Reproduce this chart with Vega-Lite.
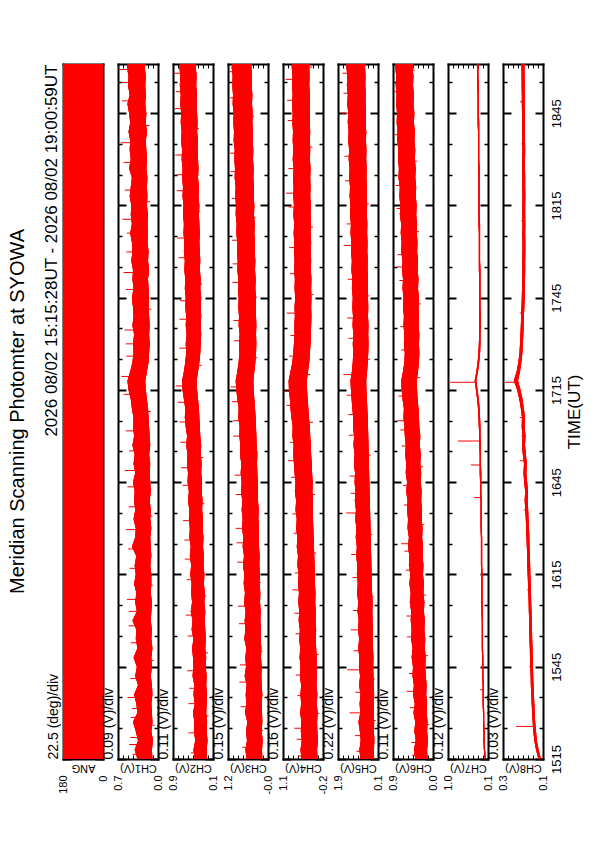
{
"$schema":"https://vega.github.io/schema/vega-lite/v6.json",
"background":"white",
"autosize":{"type":"pad"},
"padding":{"left":8,"top":63,"right":5,"bottom":5},
"title":{"text":"Meridian Scanning Photomter at SYOWA","orient":"left","anchor":"middle","frame":"group","fontSize":20,"offset":14},
"datasets":{
"ang":[{"t":15,"lo":0,"hi":180},{"t":241,"lo":0,"hi":180}],
"main":[
{"t":15,"a1":0.10,"b1":0.37,"a2":0.19,"b2":0.46,"a3":0.15,"b3":0.62,"a4":-0.03,"b4":0.49,"a5":0.27,"b5":0.87,"a6":0.12,"b6":0.39,"a7":0.11,"b7":0.14,"a8":0.072,"b8":0.088},
{"t":18,"a1":0.11,"b1":0.42,"a2":0.20,"b2":0.49,"a3":0.16,"b3":0.66,"a4":-0.01,"b4":0.52,"a5":0.28,"b5":0.92,"a6":0.13,"b6":0.42,"a7":0.13,"b7":0.16,"a8":0.086,"b8":0.102},
{"t":21,"a1":0.09,"b1":0.36,"a2":0.18,"b2":0.45,"a3":0.14,"b3":0.61,"a4":-0.04,"b4":0.48,"a5":0.26,"b5":0.86,"a6":0.11,"b6":0.38,"a7":0.14,"b7":0.17,"a8":0.097,"b8":0.112},
{"t":24,"a1":0.12,"b1":0.40,"a2":0.20,"b2":0.48,"a3":0.17,"b3":0.64,"a4":-0.02,"b4":0.51,"a5":0.28,"b5":0.90,"a6":0.13,"b6":0.41,"a7":0.14,"b7":0.17,"a8":0.102,"b8":0.118},
{"t":27,"a1":0.10,"b1":0.45,"a2":0.19,"b2":0.47,"a3":0.15,"b3":0.60,"a4":-0.01,"b4":0.49,"a5":0.27,"b5":0.96,"a6":0.12,"b6":0.39,"a7":0.15,"b7":0.18,"a8":0.107,"b8":0.122},
{"t":30,"a1":0.11,"b1":0.37,"a2":0.21,"b2":0.50,"a3":0.16,"b3":0.67,"a4":-0.03,"b4":0.53,"a5":0.29,"b5":0.88,"a6":0.14,"b6":0.43,"a7":0.15,"b7":0.18,"a8":0.110,"b8":0.125},
{"t":33,"a1":0.12,"b1":0.39,"a2":0.20,"b2":0.46,"a3":0.17,"b3":0.63,"a4":0.00,"b4":0.50,"a5":0.28,"b5":0.91,"a6":0.13,"b6":0.40,"a7":0.16,"b7":0.19,"a8":0.112,"b8":0.128},
{"t":36,"a1":0.10,"b1":0.43,"a2":0.19,"b2":0.49,"a3":0.15,"b3":0.65,"a4":-0.02,"b4":0.52,"a5":0.27,"b5":0.87,"a6":0.15,"b6":0.44,"a7":0.16,"b7":0.19,"a8":0.115,"b8":0.130},
{"t":39,"a1":0.11,"b1":0.36,"a2":0.21,"b2":0.47,"a3":0.17,"b3":0.62,"a4":0.01,"b4":0.50,"a5":0.29,"b5":0.93,"a6":0.14,"b6":0.42,"a7":0.16,"b7":0.19,"a8":0.117,"b8":0.133},
{"t":42,"a1":0.13,"b1":0.41,"a2":0.20,"b2":0.51,"a3":0.18,"b3":0.68,"a4":-0.01,"b4":0.54,"a5":0.30,"b5":0.89,"a6":0.16,"b6":0.45,"a7":0.17,"b7":0.20,"a8":0.119,"b8":0.134},
{"t":45,"a1":0.11,"b1":0.38,"a2":0.22,"b2":0.49,"a3":0.17,"b3":0.64,"a4":0.01,"b4":0.52,"a5":0.31,"b5":0.94,"a6":0.17,"b6":0.44,"a7":0.17,"b7":0.20,"a8":0.120,"b8":0.136},
{"t":48,"a1":0.12,"b1":0.44,"a2":0.21,"b2":0.50,"a3":0.19,"b3":0.66,"a4":0.00,"b4":0.55,"a5":0.30,"b5":0.92,"a6":0.16,"b6":0.47,"a7":0.17,"b7":0.20,"a8":0.122,"b8":0.138},
{"t":51,"a1":0.10,"b1":0.37,"a2":0.23,"b2":0.52,"a3":0.18,"b3":0.63,"a4":0.02,"b4":0.53,"a5":0.32,"b5":0.97,"a6":0.18,"b6":0.45,"a7":0.18,"b7":0.21,"a8":0.123,"b8":0.139},
{"t":54,"a1":0.12,"b1":0.40,"a2":0.22,"b2":0.49,"a3":0.20,"b3":0.69,"a4":0.03,"b4":0.56,"a5":0.33,"b5":0.93,"a6":0.17,"b6":0.48,"a7":0.18,"b7":0.21,"a8":0.125,"b8":0.141},
{"t":57,"a1":0.11,"b1":0.39,"a2":0.23,"b2":0.53,"a3":0.19,"b3":0.66,"a4":0.02,"b4":0.54,"a5":0.32,"b5":0.98,"a6":0.19,"b6":0.47,"a7":0.18,"b7":0.21,"a8":0.126,"b8":0.142},
{"t":60,"a1":0.13,"b1":0.46,"a2":0.24,"b2":0.51,"a3":0.21,"b3":0.68,"a4":0.04,"b4":0.58,"a5":0.34,"b5":0.95,"a6":0.18,"b6":0.49,"a7":0.18,"b7":0.21,"a8":0.128,"b8":0.143},
{"t":63,"a1":0.12,"b1":0.38,"a2":0.23,"b2":0.55,"a3":0.20,"b3":0.65,"a4":0.03,"b4":0.56,"a5":0.35,"b5":1.00,"a6":0.20,"b6":0.48,"a7":0.19,"b7":0.22,"a8":0.129,"b8":0.145},
{"t":66,"a1":0.11,"b1":0.41,"a2":0.25,"b2":0.52,"a3":0.22,"b3":0.70,"a4":0.05,"b4":0.59,"a5":0.34,"b5":0.97,"a6":0.19,"b6":0.51,"a7":0.19,"b7":0.22,"a8":0.131,"b8":0.146},
{"t":69,"a1":0.13,"b1":0.39,"a2":0.24,"b2":0.54,"a3":0.21,"b3":0.67,"a4":0.04,"b4":0.57,"a5":0.36,"b5":1.02,"a6":0.21,"b6":0.49,"a7":0.19,"b7":0.22,"a8":0.132,"b8":0.148},
{"t":72,"a1":0.12,"b1":0.43,"a2":0.26,"b2":0.53,"a3":0.23,"b3":0.71,"a4":0.06,"b4":0.60,"a5":0.37,"b5":0.99,"a6":0.20,"b6":0.52,"a7":0.19,"b7":0.22,"a8":0.134,"b8":0.150},
{"t":75,"a1":0.12,"b1":0.40,"a2":0.25,"b2":0.56,"a3":0.22,"b3":0.69,"a4":0.06,"b4":0.58,"a5":0.38,"b5":1.03,"a6":0.22,"b6":0.50,"a7":0.19,"b7":0.22,"a8":0.136,"b8":0.152},
{"t":78,"a1":0.14,"b1":0.42,"a2":0.27,"b2":0.54,"a3":0.24,"b3":0.73,"a4":0.07,"b4":0.62,"a5":0.39,"b5":1.01,"a6":0.21,"b6":0.53,"a7":0.20,"b7":0.23,"a8":0.137,"b8":0.154},
{"t":81,"a1":0.12,"b1":0.39,"a2":0.26,"b2":0.57,"a3":0.23,"b3":0.70,"a4":0.08,"b4":0.60,"a5":0.40,"b5":1.06,"a6":0.23,"b6":0.52,"a7":0.20,"b7":0.23,"a8":0.139,"b8":0.155},
{"t":84,"a1":0.13,"b1":0.47,"a2":0.28,"b2":0.55,"a3":0.25,"b3":0.74,"a4":0.09,"b4":0.64,"a5":0.41,"b5":1.03,"a6":0.22,"b6":0.55,"a7":0.20,"b7":0.23,"a8":0.141,"b8":0.157},
{"t":87,"a1":0.14,"b1":0.41,"a2":0.27,"b2":0.58,"a3":0.26,"b3":0.72,"a4":0.10,"b4":0.62,"a5":0.42,"b5":1.08,"a6":0.24,"b6":0.53,"a7":0.20,"b7":0.23,"a8":0.142,"b8":0.159},
{"t":90,"a1":0.12,"b1":0.40,"a2":0.29,"b2":0.57,"a3":0.25,"b3":0.76,"a4":0.11,"b4":0.66,"a5":0.43,"b5":1.05,"a6":0.23,"b6":0.56,"a7":0.21,"b7":0.24,"a8":0.144,"b8":0.161},
{"t":93,"a1":0.14,"b1":0.44,"a2":0.28,"b2":0.59,"a3":0.27,"b3":0.74,"a4":0.12,"b4":0.64,"a5":0.44,"b5":1.10,"a6":0.25,"b6":0.55,"a7":0.21,"b7":0.24,"a8":0.147,"b8":0.163},
{"t":96,"a1":0.13,"b1":0.41,"a2":0.30,"b2":0.58,"a3":0.26,"b3":0.77,"a4":0.13,"b4":0.68,"a5":0.45,"b5":1.07,"a6":0.24,"b6":0.57,"a7":0.21,"b7":0.24,"a8":0.149,"b8":0.166},
{"t":99,"a1":0.15,"b1":0.43,"a2":0.29,"b2":0.61,"a3":0.28,"b3":0.75,"a4":0.12,"b4":0.66,"a5":0.46,"b5":1.12,"a6":0.26,"b6":0.56,"a7":0.21,"b7":0.24,"a8":0.152,"b8":0.170},
{"t":102,"a1":0.13,"b1":0.42,"a2":0.31,"b2":0.59,"a3":0.29,"b3":0.79,"a4":0.14,"b4":0.70,"a5":0.47,"b5":1.09,"a6":0.25,"b6":0.59,"a7":0.22,"b7":0.25,"a8":0.150,"b8":0.167},
{"t":105,"a1":0.14,"b1":0.45,"a2":0.30,"b2":0.62,"a3":0.28,"b3":0.77,"a4":0.13,"b4":0.68,"a5":0.48,"b5":1.13,"a6":0.27,"b6":0.57,"a7":0.22,"b7":0.25,"a8":0.155,"b8":0.173},
{"t":108,"a1":0.15,"b1":0.41,"a2":0.32,"b2":0.61,"a3":0.30,"b3":0.80,"a4":0.15,"b4":0.71,"a5":0.49,"b5":1.11,"a6":0.26,"b6":0.60,"a7":0.22,"b7":0.26,"a8":0.160,"b8":0.177},
{"t":111,"a1":0.14,"b1":0.44,"a2":0.31,"b2":0.63,"a3":0.31,"b3":0.78,"a4":0.16,"b4":0.73,"a5":0.50,"b5":1.16,"a6":0.28,"b6":0.59,"a7":0.23,"b7":0.26,"a8":0.157,"b8":0.174},
{"t":114,"a1":0.16,"b1":0.42,"a2":0.33,"b2":0.62,"a3":0.30,"b3":0.82,"a4":0.18,"b4":0.75,"a5":0.51,"b5":1.13,"a6":0.27,"b6":0.61,"a7":0.23,"b7":0.26,"a8":0.163,"b8":0.181},
{"t":117,"a1":0.14,"b1":0.46,"a2":0.32,"b2":0.65,"a3":0.32,"b3":0.81,"a4":0.19,"b4":0.74,"a5":0.52,"b5":1.18,"a6":0.29,"b6":0.60,"a7":0.23,"b7":0.27,"a8":0.168,"b8":0.186},
{"t":120,"a1":0.15,"b1":0.43,"a2":0.34,"b2":0.63,"a3":0.33,"b3":0.84,"a4":0.21,"b4":0.78,"a5":0.53,"b5":1.15,"a6":0.28,"b6":0.62,"a7":0.24,"b7":0.27,"a8":0.165,"b8":0.182},
{"t":123,"a1":0.16,"b1":0.45,"a2":0.35,"b2":0.66,"a3":0.34,"b3":0.83,"a4":0.22,"b4":0.77,"a5":0.54,"b5":1.20,"a6":0.30,"b6":0.63,"a7":0.24,"b7":0.28,"a8":0.170,"b8":0.188},
{"t":126,"a1":0.17,"b1":0.44,"a2":0.36,"b2":0.68,"a3":0.35,"b3":0.87,"a4":0.25,"b4":0.81,"a5":0.55,"b5":1.19,"a6":0.31,"b6":0.65,"a7":0.25,"b7":0.29,"a8":0.168,"b8":0.186},
{"t":129,"a1":0.18,"b1":0.47,"a2":0.37,"b2":0.67,"a3":0.37,"b3":0.86,"a4":0.27,"b4":0.84,"a5":0.57,"b5":1.23,"a6":0.32,"b6":0.64,"a7":0.26,"b7":0.30,"a8":0.175,"b8":0.193},
{"t":132,"a1":0.20,"b1":0.49,"a2":0.39,"b2":0.70,"a3":0.39,"b3":0.90,"a4":0.29,"b4":0.86,"a5":0.59,"b5":1.26,"a6":0.34,"b6":0.67,"a7":0.28,"b7":0.32,"a8":0.183,"b8":0.202},
{"t":135,"a1":0.22,"b1":0.53,"a2":0.41,"b2":0.73,"a3":0.41,"b3":0.93,"a4":0.31,"b4":0.89,"a5":0.61,"b5":1.29,"a6":0.35,"b6":0.69,"a7":0.31,"b7":0.35,"a8":0.195,"b8":0.215},
{"t":138,"a1":0.23,"b1":0.55,"a2":0.42,"b2":0.74,"a3":0.42,"b3":0.95,"a4":0.32,"b4":0.90,"a5":0.62,"b5":1.31,"a6":0.36,"b6":0.70,"a7":0.34,"b7":0.38,"a8":0.210,"b8":0.235},
{"t":141,"a1":0.20,"b1":0.50,"a2":0.39,"b2":0.70,"a3":0.39,"b3":0.90,"a4":0.28,"b4":0.84,"a5":0.58,"b5":1.25,"a6":0.33,"b6":0.66,"a7":0.30,"b7":0.34,"a8":0.198,"b8":0.218},
{"t":144,"a1":0.17,"b1":0.46,"a2":0.36,"b2":0.67,"a3":0.36,"b3":0.86,"a4":0.24,"b4":0.78,"a5":0.55,"b5":1.21,"a6":0.31,"b6":0.63,"a7":0.27,"b7":0.31,"a8":0.190,"b8":0.208},
{"t":147,"a1":0.16,"b1":0.44,"a2":0.34,"b2":0.65,"a3":0.34,"b3":0.84,"a4":0.22,"b4":0.75,"a5":0.53,"b5":1.19,"a6":0.30,"b6":0.62,"a7":0.25,"b7":0.29,"a8":0.184,"b8":0.201},
{"t":150,"a1":0.15,"b1":0.45,"a2":0.33,"b2":0.66,"a3":0.33,"b3":0.85,"a4":0.20,"b4":0.73,"a5":0.52,"b5":1.21,"a6":0.31,"b6":0.64,"a7":0.24,"b7":0.28,"a8":0.181,"b8":0.198},
{"t":153,"a1":0.16,"b1":0.43,"a2":0.32,"b2":0.64,"a3":0.34,"b3":0.83,"a4":0.19,"b4":0.71,"a5":0.53,"b5":1.18,"a6":0.30,"b6":0.63,"a7":0.24,"b7":0.27,"a8":0.178,"b8":0.195},
{"t":156,"a1":0.15,"b1":0.46,"a2":0.33,"b2":0.66,"a3":0.33,"b3":0.86,"a4":0.18,"b4":0.72,"a5":0.52,"b5":1.22,"a6":0.32,"b6":0.65,"a7":0.23,"b7":0.27,"a8":0.176,"b8":0.193},
{"t":159,"a1":0.16,"b1":0.44,"a2":0.32,"b2":0.65,"a3":0.34,"b3":0.85,"a4":0.17,"b4":0.70,"a5":0.54,"b5":1.20,"a6":0.31,"b6":0.64,"a7":0.23,"b7":0.27,"a8":0.175,"b8":0.191},
{"t":162,"a1":0.17,"b1":0.45,"a2":0.33,"b2":0.67,"a3":0.35,"b3":0.87,"a4":0.18,"b4":0.71,"a5":0.53,"b5":1.23,"a6":0.32,"b6":0.66,"a7":0.24,"b7":0.27,"a8":0.172,"b8":0.189},
{"t":165,"a1":0.16,"b1":0.47,"a2":0.32,"b2":0.66,"a3":0.34,"b3":0.86,"a4":0.17,"b4":0.69,"a5":0.54,"b5":1.21,"a6":0.31,"b6":0.65,"a7":0.24,"b7":0.27,"a8":0.170,"b8":0.187},
{"t":168,"a1":0.17,"b1":0.44,"a2":0.34,"b2":0.68,"a3":0.36,"b3":0.88,"a4":0.18,"b4":0.71,"a5":0.55,"b5":1.25,"a6":0.33,"b6":0.67,"a7":0.24,"b7":0.27,"a8":0.169,"b8":0.186},
{"t":171,"a1":0.18,"b1":0.46,"a2":0.33,"b2":0.67,"a3":0.35,"b3":0.87,"a4":0.17,"b4":0.70,"a5":0.54,"b5":1.23,"a6":0.32,"b6":0.66,"a7":0.24,"b7":0.27,"a8":0.168,"b8":0.185},
{"t":174,"a1":0.16,"b1":0.45,"a2":0.35,"b2":0.69,"a3":0.37,"b3":0.90,"a4":0.19,"b4":0.72,"a5":0.56,"b5":1.27,"a6":0.34,"b6":0.68,"a7":0.24,"b7":0.28,"a8":0.167,"b8":0.184},
{"t":177,"a1":0.18,"b1":0.48,"a2":0.34,"b2":0.68,"a3":0.36,"b3":0.89,"a4":0.18,"b4":0.71,"a5":0.55,"b5":1.25,"a6":0.33,"b6":0.67,"a7":0.25,"b7":0.28,"a8":0.167,"b8":0.184},
{"t":180,"a1":0.17,"b1":0.46,"a2":0.35,"b2":0.70,"a3":0.38,"b3":0.91,"a4":0.19,"b4":0.73,"a5":0.57,"b5":1.29,"a6":0.35,"b6":0.70,"a7":0.25,"b7":0.28,"a8":0.166,"b8":0.183},
{"t":183,"a1":0.19,"b1":0.47,"a2":0.36,"b2":0.69,"a3":0.37,"b3":0.90,"a4":0.18,"b4":0.72,"a5":0.56,"b5":1.27,"a6":0.34,"b6":0.69,"a7":0.25,"b7":0.28,"a8":0.166,"b8":0.183},
{"t":186,"a1":0.18,"b1":0.50,"a2":0.35,"b2":0.71,"a3":0.39,"b3":0.93,"a4":0.20,"b4":0.74,"a5":0.58,"b5":1.31,"a6":0.36,"b6":0.71,"a7":0.25,"b7":0.28,"a8":0.167,"b8":0.184},
{"t":189,"a1":0.19,"b1":0.47,"a2":0.36,"b2":0.70,"a3":0.38,"b3":0.92,"a4":0.19,"b4":0.72,"a5":0.57,"b5":1.29,"a6":0.35,"b6":0.70,"a7":0.25,"b7":0.29,"a8":0.166,"b8":0.183},
{"t":192,"a1":0.18,"b1":0.49,"a2":0.37,"b2":0.72,"a3":0.40,"b3":0.95,"a4":0.20,"b4":0.75,"a5":0.59,"b5":1.33,"a6":0.37,"b6":0.73,"a7":0.26,"b7":0.29,"a8":0.167,"b8":0.184},
{"t":195,"a1":0.20,"b1":0.48,"a2":0.36,"b2":0.71,"a3":0.39,"b3":0.94,"a4":0.19,"b4":0.73,"a5":0.58,"b5":1.31,"a6":0.36,"b6":0.72,"a7":0.26,"b7":0.29,"a8":0.167,"b8":0.184},
{"t":198,"a1":0.19,"b1":0.51,"a2":0.38,"b2":0.73,"a3":0.41,"b3":0.96,"a4":0.21,"b4":0.75,"a5":0.60,"b5":1.35,"a6":0.38,"b6":0.74,"a7":0.26,"b7":0.29,"a8":0.166,"b8":0.183},
{"t":201,"a1":0.20,"b1":0.49,"a2":0.37,"b2":0.72,"a3":0.40,"b3":0.95,"a4":0.20,"b4":0.74,"a5":0.59,"b5":1.33,"a6":0.37,"b6":0.73,"a7":0.26,"b7":0.29,"a8":0.167,"b8":0.184},
{"t":204,"a1":0.19,"b1":0.47,"a2":0.39,"b2":0.74,"a3":0.42,"b3":0.98,"a4":0.21,"b4":0.76,"a5":0.61,"b5":1.37,"a6":0.39,"b6":0.76,"a7":0.26,"b7":0.29,"a8":0.167,"b8":0.185},
{"t":207,"a1":0.21,"b1":0.52,"a2":0.38,"b2":0.73,"a3":0.41,"b3":0.97,"a4":0.20,"b4":0.74,"a5":0.60,"b5":1.35,"a6":0.38,"b6":0.75,"a7":0.26,"b7":0.30,"a8":0.168,"b8":0.185},
{"t":210,"a1":0.20,"b1":0.49,"a2":0.39,"b2":0.75,"a3":0.43,"b3":0.99,"a4":0.22,"b4":0.77,"a5":0.62,"b5":1.39,"a6":0.40,"b6":0.77,"a7":0.27,"b7":0.30,"a8":0.168,"b8":0.185},
{"t":213,"a1":0.21,"b1":0.51,"a2":0.40,"b2":0.74,"a3":0.42,"b3":0.98,"a4":0.21,"b4":0.75,"a5":0.61,"b5":1.37,"a6":0.39,"b6":0.76,"a7":0.27,"b7":0.30,"a8":0.167,"b8":0.184},
{"t":216,"a1":0.22,"b1":0.50,"a2":0.39,"b2":0.76,"a3":0.44,"b3":1.01,"a4":0.22,"b4":0.77,"a5":0.63,"b5":1.41,"a6":0.41,"b6":0.79,"a7":0.27,"b7":0.30,"a8":0.168,"b8":0.185},
{"t":219,"a1":0.20,"b1":0.53,"a2":0.41,"b2":0.75,"a3":0.43,"b3":1.00,"a4":0.21,"b4":0.76,"a5":0.62,"b5":1.39,"a6":0.40,"b6":0.78,"a7":0.27,"b7":0.30,"a8":0.168,"b8":0.186},
{"t":222,"a1":0.22,"b1":0.50,"a2":0.40,"b2":0.77,"a3":0.45,"b3":1.02,"a4":0.23,"b4":0.78,"a5":0.64,"b5":1.43,"a6":0.42,"b6":0.80,"a7":0.27,"b7":0.31,"a8":0.169,"b8":0.186},
{"t":225,"a1":0.21,"b1":0.52,"a2":0.41,"b2":0.76,"a3":0.44,"b3":1.01,"a4":0.22,"b4":0.77,"a5":0.63,"b5":1.41,"a6":0.41,"b6":0.79,"a7":0.28,"b7":0.31,"a8":0.169,"b8":0.186},
{"t":228,"a1":0.23,"b1":0.55,"a2":0.42,"b2":0.78,"a3":0.46,"b3":1.04,"a4":0.23,"b4":0.79,"a5":0.65,"b5":1.45,"a6":0.43,"b6":0.81,"a7":0.28,"b7":0.31,"a8":0.170,"b8":0.187},
{"t":231,"a1":0.22,"b1":0.51,"a2":0.41,"b2":0.77,"a3":0.45,"b3":1.03,"a4":0.22,"b4":0.77,"a5":0.64,"b5":1.43,"a6":0.42,"b6":0.80,"a7":0.28,"b7":0.31,"a8":0.170,"b8":0.187},
{"t":234,"a1":0.23,"b1":0.54,"a2":0.43,"b2":0.79,"a3":0.47,"b3":1.05,"a4":0.24,"b4":0.79,"a5":0.66,"b5":1.47,"a6":0.44,"b6":0.82,"a7":0.28,"b7":0.32,"a8":0.170,"b8":0.188},
{"t":237,"a1":0.22,"b1":0.53,"a2":0.42,"b2":0.78,"a3":0.46,"b3":1.04,"a4":0.23,"b4":0.78,"a5":0.65,"b5":1.45,"a6":0.43,"b6":0.81,"a7":0.29,"b7":0.32,"a8":0.171,"b8":0.188},
{"t":240,"a1":0.24,"b1":0.56,"a2":0.44,"b2":0.80,"a3":0.48,"b3":1.07,"a4":0.24,"b4":0.80,"a5":0.67,"b5":1.49,"a6":0.45,"b6":0.83,"a7":0.29,"b7":0.32,"a8":0.171,"b8":0.189},
{"t":241,"a1":0.23,"b1":0.54,"a2":0.43,"b2":0.79,"a3":0.47,"b3":1.05,"a4":0.23,"b4":0.79,"a5":0.66,"b5":1.48,"a6":0.44,"b6":0.82,"a7":0.29,"b7":0.32,"a8":0.172,"b8":0.189}
],
"spk":[
{"c":"CH1","t":22,"b":0.25,"v":0.5},{"c":"CH1","t":28.5,"b":0.25,"v":0.49},{"c":"CH1","t":63,"b":0.27,"v":0.52},{"c":"CH1","t":97,"b":0.28,"v":0.53},{"c":"CH1","t":150,"b":0.3,"v":0.58},{"c":"CH1","t":186,"b":0.33,"v":0.56},{"c":"CH1","t":200,"b":0.34,"v":0.6},{"c":"CH1","t":229,"b":0.38,"v":0.65},
{"c":"CH1","t":16.5,"b":0.24,"v":0.46},{"c":"CH1","t":19.7,"b":0.24,"v":0.52},{"c":"CH1","t":26,"b":0.25,"v":0.06},{"c":"CH1","t":31.4,"b":0.25,"v":0.47},{"c":"CH1","t":35,"b":0.25,"v":0.55},{"c":"CH1","t":41.2,"b":0.26,"v":0.5},{"c":"CH1","t":47,"b":0.27,"v":0.08},{"c":"CH1","t":52.8,"b":0.25,"v":0.49},{"c":"CH1","t":58.3,"b":0.26,"v":0.53},{"c":"CH1","t":66.9,"b":0.27,"v":0.56},{"c":"CH1","t":71.5,"b":0.28,"v":0.09},{"c":"CH1","t":77,"b":0.28,"v":0.51},{"c":"CH1","t":83.3,"b":0.28,"v":0.54},{"c":"CH1","t":89.6,"b":0.27,"v":0.58},{"c":"CH1","t":94,"b":0.29,"v":0.1},{"c":"CH1","t":103.5,"b":0.29,"v":0.55},{"c":"CH1","t":108.8,"b":0.28,"v":0.6},{"c":"CH1","t":115.2,"b":0.29,"v":0.52},{"c":"CH1","t":121.7,"b":0.3,"v":0.58},{"c":"CH1","t":128,"b":0.32,"v":0.13},{"c":"CH1","t":133.6,"b":0.36,"v":0.62},{"c":"CH1","t":139.4,"b":0.38,"v":0.66},{"c":"CH1","t":146,"b":0.3,"v":0.57},{"c":"CH1","t":154.5,"b":0.3,"v":0.6},{"c":"CH1","t":161.3,"b":0.31,"v":0.12},{"c":"CH1","t":167.7,"b":0.3,"v":0.58},{"c":"CH1","t":173.2,"b":0.31,"v":0.62},{"c":"CH1","t":179.9,"b":0.32,"v":0.57},{"c":"CH1","t":190.5,"b":0.33,"v":0.64},{"c":"CH1","t":196.2,"b":0.34,"v":0.14},{"c":"CH1","t":209,"b":0.35,"v":0.62},{"c":"CH1","t":215.4,"b":0.36,"v":0.67},{"c":"CH1","t":221,"b":0.36,"v":0.15},{"c":"CH1","t":235,"b":0.38,"v":0.66},{"c":"CH1","t":239.2,"b":0.39,"v":0.7},
{"c":"CH2","t":33,"b":0.33,"v":0.6},{"c":"CH2","t":80,"b":0.41,"v":0.68},{"c":"CH2","t":118,"b":0.48,"v":0.78},{"c":"CH2","t":158,"b":0.49,"v":0.8},{"c":"CH2","t":205,"b":0.56,"v":0.86},{"c":"CH2","t":232,"b":0.6,"v":0.88},
{"c":"CH2","t":17,"b":0.33,"v":0.55},{"c":"CH2","t":23.5,"b":0.34,"v":0.6},{"c":"CH2","t":29,"b":0.34,"v":0.16},{"c":"CH2","t":38,"b":0.34,"v":0.58},{"c":"CH2","t":43.7,"b":0.35,"v":0.63},{"c":"CH2","t":49.5,"b":0.36,"v":0.17},{"c":"CH2","t":55,"b":0.37,"v":0.62},{"c":"CH2","t":61.8,"b":0.38,"v":0.66},{"c":"CH2","t":68,"b":0.39,"v":0.21},{"c":"CH2","t":73.3,"b":0.39,"v":0.64},{"c":"CH2","t":86.2,"b":0.42,"v":0.69},{"c":"CH2","t":92.5,"b":0.44,"v":0.72},{"c":"CH2","t":98,"b":0.45,"v":0.25},{"c":"CH2","t":104,"b":0.46,"v":0.73},{"c":"CH2","t":109.7,"b":0.46,"v":0.76},{"c":"CH2","t":113,"b":0.47,"v":0.27},{"c":"CH2","t":124.6,"b":0.51,"v":0.8},{"c":"CH2","t":131,"b":0.55,"v":0.84},{"c":"CH2","t":136.3,"b":0.57,"v":0.88},{"c":"CH2","t":143,"b":0.51,"v":0.31},{"c":"CH2","t":148.6,"b":0.49,"v":0.8},{"c":"CH2","t":164,"b":0.49,"v":0.79},{"c":"CH2","t":169.5,"b":0.5,"v":0.3},{"c":"CH2","t":178,"b":0.51,"v":0.82},{"c":"CH2","t":184.4,"b":0.52,"v":0.85},{"c":"CH2","t":193,"b":0.54,"v":0.34},{"c":"CH2","t":199.8,"b":0.55,"v":0.86},{"c":"CH2","t":211.4,"b":0.57,"v":0.89},{"c":"CH2","t":220,"b":0.58,"v":0.37},{"c":"CH2","t":226.5,"b":0.59,"v":0.9},{"c":"CH2","t":238,"b":0.61,"v":0.92},
{"c":"CH3","t":40,"b":0.41,"v":0.84},{"c":"CH3","t":90,"b":0.5,"v":0.95},{"c":"CH3","t":120,"b":0.58,"v":1.02},{"c":"CH3","t":170,"b":0.61,"v":1.05},{"c":"CH3","t":212,"b":0.7,"v":1.12},
{"c":"CH3","t":18.8,"b":0.4,"v":0.75},{"c":"CH3","t":24.3,"b":0.4,"v":0.13},{"c":"CH3","t":32,"b":0.4,"v":0.8},{"c":"CH3","t":45.6,"b":0.41,"v":0.82},{"c":"CH3","t":50,"b":0.42,"v":0.15},{"c":"CH3","t":59,"b":0.44,"v":0.85},{"c":"CH3","t":64.7,"b":0.45,"v":0.88},{"c":"CH3","t":72.4,"b":0.47,"v":0.19},{"c":"CH3","t":79,"b":0.49,"v":0.9},{"c":"CH3","t":85.3,"b":0.5,"v":0.92},{"c":"CH3","t":96.5,"b":0.52,"v":0.25},{"c":"CH3","t":101,"b":0.54,"v":0.95},{"c":"CH3","t":107.3,"b":0.55,"v":0.98},{"c":"CH3","t":114.6,"b":0.56,"v":0.28},{"c":"CH3","t":125,"b":0.61,"v":1.03},{"c":"CH3","t":131.2,"b":0.65,"v":1.06},{"c":"CH3","t":136,"b":0.67,"v":1.1},{"c":"CH3","t":145.5,"b":0.6,"v":0.3},{"c":"CH3","t":151,"b":0.59,"v":1.0},{"c":"CH3","t":157.6,"b":0.6,"v":1.02},{"c":"CH3","t":165.2,"b":0.6,"v":0.31},{"c":"CH3","t":176,"b":0.63,"v":1.04},{"c":"CH3","t":183.7,"b":0.64,"v":1.06},{"c":"CH3","t":191,"b":0.66,"v":0.36},{"c":"CH3","t":197.3,"b":0.67,"v":1.07},{"c":"CH3","t":206,"b":0.69,"v":1.1},{"c":"CH3","t":224,"b":0.72,"v":0.4},{"c":"CH3","t":230,"b":0.74,"v":1.12},{"c":"CH3","t":238.5,"b":0.76,"v":1.14},
{"c":"CH4","t":25,"b":0.24,"v":0.72},{"c":"CH4","t":70,"b":0.31,"v":0.78},{"c":"CH4","t":112,"b":0.44,"v":0.92},{"c":"CH4","t":160,"b":0.44,"v":0.96},{"c":"CH4","t":199,"b":0.47,"v":0.98},{"c":"CH4","t":236,"b":0.51,"v":1.0},
{"c":"CH4","t":16,"b":0.23,"v":0.6},{"c":"CH4","t":21.4,"b":0.22,"v":0.64},{"c":"CH4","t":29.8,"b":0.25,"v":-0.08},{"c":"CH4","t":35.6,"b":0.25,"v":0.62},{"c":"CH4","t":42.3,"b":0.26,"v":0.67},{"c":"CH4","t":49,"b":0.27,"v":-0.06},{"c":"CH4","t":55.7,"b":0.29,"v":0.68},{"c":"CH4","t":62.4,"b":0.3,"v":0.71},{"c":"CH4","t":75.5,"b":0.32,"v":0.7},{"c":"CH4","t":82,"b":0.34,"v":0.02},{"c":"CH4","t":88.4,"b":0.36,"v":0.74},{"c":"CH4","t":94.7,"b":0.38,"v":0.78},{"c":"CH4","t":101,"b":0.41,"v":0.06},{"c":"CH4","t":106.6,"b":0.41,"v":0.82},{"c":"CH4","t":118,"b":0.47,"v":0.86},{"c":"CH4","t":124.5,"b":0.51,"v":0.12},{"c":"CH4","t":130,"b":0.57,"v":0.97},{"c":"CH4","t":134.6,"b":0.6,"v":1.02},{"c":"CH4","t":140,"b":0.58,"v":0.2},{"c":"CH4","t":146,"b":0.48,"v":0.89},{"c":"CH4","t":152.7,"b":0.45,"v":0.84},{"c":"CH4","t":166,"b":0.43,"v":0.1},{"c":"CH4","t":172.8,"b":0.44,"v":0.86},{"c":"CH4","t":181.3,"b":0.46,"v":0.88},{"c":"CH4","t":188,"b":0.46,"v":0.12},{"c":"CH4","t":194.5,"b":0.46,"v":0.9},{"c":"CH4","t":207,"b":0.47,"v":0.91},{"c":"CH4","t":214,"b":0.48,"v":0.14},{"c":"CH4","t":222.6,"b":0.5,"v":0.93},{"c":"CH4","t":229.2,"b":0.51,"v":0.95},{"c":"CH4","t":240,"b":0.52,"v":0.14},
{"c":"CH5","t":30,"b":0.58,"v":1.35},{"c":"CH5","t":44,"b":0.62,"v":1.45},{"c":"CH5","t":57,"b":0.64,"v":1.3},{"c":"CH5","t":95,"b":0.76,"v":1.5},{"c":"CH5","t":140,"b":0.92,"v":1.62},{"c":"CH5","t":182,"b":0.92,"v":1.6},{"c":"CH5","t":225,"b":1.02,"v":1.7},
{"c":"CH5","t":17.5,"b":0.57,"v":1.05},{"c":"CH5","t":22.6,"b":0.57,"v":1.12},{"c":"CH5","t":27.5,"b":0.58,"v":0.2},{"c":"CH5","t":36.7,"b":0.58,"v":1.1},{"c":"CH5","t":41,"b":0.6,"v":0.24},{"c":"CH5","t":50.2,"b":0.62,"v":1.18},{"c":"CH5","t":63.3,"b":0.67,"v":1.2},{"c":"CH5","t":67.8,"b":0.66,"v":0.3},{"c":"CH5","t":74,"b":0.69,"v":1.22},{"c":"CH5","t":81.5,"b":0.73,"v":1.28},{"c":"CH5","t":88,"b":0.75,"v":0.36},{"c":"CH5","t":101.4,"b":0.78,"v":1.3},{"c":"CH5","t":107,"b":0.8,"v":1.35},{"c":"CH5","t":113.8,"b":0.82,"v":0.42},{"c":"CH5","t":120.3,"b":0.84,"v":1.38},{"c":"CH5","t":127,"b":0.87,"v":1.4},{"c":"CH5","t":133.3,"b":0.93,"v":1.48},{"c":"CH5","t":145,"b":0.88,"v":0.45},{"c":"CH5","t":151.8,"b":0.87,"v":1.4},{"c":"CH5","t":158.4,"b":0.87,"v":1.45},{"c":"CH5","t":165.6,"b":0.88,"v":0.48},{"c":"CH5","t":171,"b":0.89,"v":1.42},{"c":"CH5","t":189,"b":0.93,"v":1.48},{"c":"CH5","t":195.5,"b":0.95,"v":0.5},{"c":"CH5","t":203,"b":0.98,"v":1.55},{"c":"CH5","t":211,"b":1.0,"v":1.58},{"c":"CH5","t":218.6,"b":1.01,"v":0.58},{"c":"CH5","t":231.5,"b":1.04,"v":1.62},{"c":"CH5","t":238,"b":1.06,"v":1.66},
{"c":"CH6","t":37,"b":0.29,"v":0.58},{"c":"CH6","t":85,"b":0.38,"v":0.7},{"c":"CH6","t":125,"b":0.47,"v":0.78},{"c":"CH6","t":175,"b":0.51,"v":0.8},{"c":"CH6","t":218,"b":0.59,"v":0.85},
{"c":"CH6","t":16.2,"b":0.26,"v":0.46},{"c":"CH6","t":20.4,"b":0.25,"v":0.48},{"c":"CH6","t":26.2,"b":0.26,"v":0.08},{"c":"CH6","t":31.7,"b":0.28,"v":0.51},{"c":"CH6","t":42.8,"b":0.3,"v":0.53},{"c":"CH6","t":48.6,"b":0.31,"v":0.11},{"c":"CH6","t":54.7,"b":0.33,"v":0.57},{"c":"CH6","t":61.5,"b":0.34,"v":0.58},{"c":"CH6","t":68.3,"b":0.35,"v":0.15},{"c":"CH6","t":76.4,"b":0.36,"v":0.6},{"c":"CH6","t":82.6,"b":0.37,"v":0.63},{"c":"CH6","t":91.3,"b":0.4,"v":0.19},{"c":"CH6","t":97.6,"b":0.4,"v":0.64},{"c":"CH6","t":104,"b":0.42,"v":0.66},{"c":"CH6","t":110,"b":0.43,"v":0.22},{"c":"CH6","t":116.8,"b":0.44,"v":0.69},{"c":"CH6","t":122,"b":0.46,"v":0.72},{"c":"CH6","t":133,"b":0.51,"v":0.76},{"c":"CH6","t":139,"b":0.53,"v":0.28},{"c":"CH6","t":148,"b":0.46,"v":0.7},{"c":"CH6","t":155.6,"b":0.47,"v":0.72},{"c":"CH6","t":163,"b":0.49,"v":0.27},{"c":"CH6","t":170.6,"b":0.49,"v":0.74},{"c":"CH6","t":179,"b":0.52,"v":0.78},{"c":"CH6","t":186.5,"b":0.53,"v":0.31},{"c":"CH6","t":194,"b":0.54,"v":0.8},{"c":"CH6","t":201.5,"b":0.55,"v":0.82},{"c":"CH6","t":209.4,"b":0.58,"v":0.35},{"c":"CH6","t":224.5,"b":0.6,"v":0.84},{"c":"CH6","t":232,"b":0.61,"v":0.86},{"c":"CH6","t":239,"b":0.63,"v":0.4},
{"c":"CH7","t":37.5,"b":0.175,"v":0.25},{"c":"CH7","t":100,"b":0.225,"v":0.4},{"c":"CH7","t":110.6,"b":0.24,"v":0.47},{"c":"CH7","t":118.4,"b":0.25,"v":0.78},{"c":"CH7","t":137.5,"b":0.36,"v":0.97},
{"c":"CH8","t":25.6,"b":0.112,"v":0.222},{"c":"CH8","t":112,"b":0.17,"v":0.2},{"c":"CH8","t":137.5,"b":0.225,"v":0.288},{"c":"CH8","t":228.7,"b":0.178,"v":0.198},
{"c":"CH8","t":45,"b":0.128,"v":0.142},{"c":"CH8","t":70,"b":0.14,"v":0.155},{"c":"CH8","t":96,"b":0.157,"v":0.175},{"c":"CH8","t":120,"b":0.174,"v":0.19},{"c":"CH8","t":126,"b":0.177,"v":0.2},{"c":"CH8","t":160,"b":0.183,"v":0.2},{"c":"CH8","t":190,"b":0.175,"v":0.19},{"c":"CH8","t":215,"b":0.176,"v":0.19}
]
},
"spacing":15,
"bounds":"flush",
"resolve":{"scale":{"x":"independent","y":"independent"}},
"hconcat":[
{"width":40,"height":695,"layer":[
{"data":{"name":"ang"},"mark":{"type":"area","orient":"horizontal","color":"#ff0000","clip":true},"encoding":{
"y":{"field":"t","type":"quantitative","scale":{"domain":[15,241]},"axis":{"orient":"left","values":[15,45,75,105,135,165,195,225],"tickSize":-8,"tickWidth":2,"labels":false,"domain":true,"title":"22.5 (deg)/div","titleAnchor":"start","titleAngle":270,"titleBaseline":"bottom","titlePadding":2,"titleFontSize":14}},
"x":{"field":"lo","type":"quantitative","scale":{"domain":[0,180],"reverse":true},"axis":{"orient":"bottom","values":[0,22.5,45,67.5,90,112.5,135,157.5,180],"tickSize":-4,"tickWidth":1,"labelExpr":"datum.value==180?'180':datum.value==0?'0':''","labelAngle":270,"labelAlign":"right","labelBaseline":"middle","labelPadding":20,"labelFontSize":11,"domain":true,"title":"ANG","titleAngle":180,"titleX":20,"titleY":3,"titleBaseline":"bottom","titleAlign":"center","titleFontSize":11}},
"x2":{"field":"hi"}}},
{"data":{"name":"ang"},"mark":{"type":"area","orient":"horizontal","color":"#ff0000","clip":true},"encoding":{
"y":{"field":"t","type":"quantitative","scale":{"domain":[15,241]},"axis":{"orient":"left","values":[25,35,55,65,85,95,115,125,145,155,175,185,205,215,235],"tickSize":-4,"tickWidth":1.5,"labels":false,"domain":false,"title":"2026 08/02 15:15:28UT - 2026 08/02 19:00:59UT","titleAnchor":"end","titleAngle":270,"titleBaseline":"bottom","titlePadding":2,"titleFontSize":17}},
"x":{"field":"lo","type":"quantitative","scale":{"domain":[0,180],"reverse":true},"axis":{"orient":"top","values":[0,22.5,45,67.5,90,112.5,135,157.5,180],"tickSize":-4,"tickWidth":1,"labels":false,"domain":true,"title":null}},
"x2":{"field":"hi"}}},
{"data":{"name":"ang"},"mark":{"type":"area","orient":"horizontal","color":"#ff0000","clip":true},"encoding":{
"y":{"field":"t","type":"quantitative","scale":{"domain":[15,241]},"axis":{"orient":"right","values":[15,45,75,105,135,165,195,225],"tickSize":-8,"tickWidth":2,"labels":false,"domain":true,"title":null}},
"x":{"field":"lo","type":"quantitative","scale":{"domain":[0,180],"reverse":true},"axis":null},
"x2":{"field":"hi"}}},
{"data":{"name":"ang"},"mark":{"type":"area","orient":"horizontal","color":"#ff0000","clip":true},"encoding":{
"y":{"field":"t","type":"quantitative","scale":{"domain":[15,241]},"axis":{"orient":"right","values":[25,35,55,65,85,95,115,125,145,155,175,185,205,215,235],"tickSize":-4,"tickWidth":1.5,"labels":false,"domain":false,"title":null}},
"x":{"field":"lo","type":"quantitative","scale":{"domain":[0,180],"reverse":true},"axis":null},
"x2":{"field":"hi"}}}
],"resolve":{"axis":{"x":"independent","y":"independent"}}},

{"width":40,"height":695,"layer":[
{"data":{"name":"main"},"mark":{"type":"area","orient":"horizontal","color":"#ff0000","clip":true},"encoding":{
"y":{"field":"t","type":"quantitative","scale":{"domain":[15,241]},"axis":{"orient":"left","values":[15,45,75,105,135,165,195,225],"tickSize":-8,"tickWidth":2,"labels":false,"domain":true,"title":"0.09 (V)/div","titleAnchor":"start","titleAngle":270,"titleBaseline":"bottom","titlePadding":2,"titleFontSize":14}},
"x":{"field":"a1","type":"quantitative","scale":{"domain":[0,0.72],"reverse":true},"axis":{"orient":"bottom","values":[0,0.09,0.18,0.27,0.36,0.45,0.54,0.63,0.72],"tickSize":-4,"tickWidth":1,"labelExpr":"datum.value==0.72?'0.7':datum.value==0?'0.0':''","labelAngle":270,"labelAlign":"right","labelBaseline":"middle","labelPadding":20,"labelFontSize":11,"domain":true,"title":"CH1(V)","titleAngle":180,"titleX":20,"titleY":3,"titleBaseline":"bottom","titleAlign":"center","titleFontSize":11}},
"x2":{"field":"b1"}}},
{"data":{"name":"main"},"mark":{"type":"area","orient":"horizontal","color":"#ff0000","clip":true},"encoding":{
"y":{"field":"t","type":"quantitative","scale":{"domain":[15,241]},"axis":{"orient":"left","values":[25,35,55,65,85,95,115,125,145,155,175,185,205,215,235],"tickSize":-4,"tickWidth":1.5,"labels":false,"domain":false,"title":null}},
"x":{"field":"a1","type":"quantitative","scale":{"domain":[0,0.72],"reverse":true},"axis":{"orient":"top","values":[0,0.09,0.18,0.27,0.36,0.45,0.54,0.63,0.72],"tickSize":-4,"tickWidth":1,"labels":false,"domain":true,"title":null}},
"x2":{"field":"b1"}}},
{"data":{"name":"main"},"mark":{"type":"area","orient":"horizontal","color":"#ff0000","clip":true},"encoding":{
"y":{"field":"t","type":"quantitative","scale":{"domain":[15,241]},"axis":{"orient":"right","values":[15,45,75,105,135,165,195,225],"tickSize":-8,"tickWidth":2,"labels":false,"domain":true,"title":null}},
"x":{"field":"a1","type":"quantitative","scale":{"domain":[0,0.72],"reverse":true},"axis":null},
"x2":{"field":"b1"}}},
{"data":{"name":"spk"},"transform":[{"filter":"datum.c=='CH1'"}],"mark":{"type":"rule","color":"#ff0000","strokeWidth":1,"clip":true},"encoding":{
"y":{"field":"t","type":"quantitative","scale":{"domain":[15,241]},"axis":{"orient":"right","values":[25,35,55,65,85,95,115,125,145,155,175,185,205,215,235],"tickSize":-4,"tickWidth":1.5,"labels":false,"domain":false,"title":null}},
"x":{"field":"v","type":"quantitative","scale":{"domain":[0,0.72],"reverse":true},"axis":null},
"x2":{"field":"b"}}}
],"resolve":{"axis":{"x":"independent","y":"independent"}}},

{"width":40,"height":695,"layer":[
{"data":{"name":"main"},"mark":{"type":"area","orient":"horizontal","color":"#ff0000","clip":true},"encoding":{
"y":{"field":"t","type":"quantitative","scale":{"domain":[15,241]},"axis":{"orient":"left","values":[15,45,75,105,135,165,195,225],"tickSize":-8,"tickWidth":2,"labels":false,"domain":true,"title":"0.11 (V)/div","titleAnchor":"start","titleAngle":270,"titleBaseline":"bottom","titlePadding":2,"titleFontSize":14}},
"x":{"field":"a2","type":"quantitative","scale":{"domain":[0.06,0.94],"reverse":true},"axis":{"orient":"bottom","values":[0.06,0.17,0.28,0.39,0.5,0.61,0.72,0.83,0.94],"tickSize":-4,"tickWidth":1,"labelExpr":"datum.value==0.94?'0.9':datum.value==0.06?'0.1':''","labelAngle":270,"labelAlign":"right","labelBaseline":"middle","labelPadding":20,"labelFontSize":11,"domain":true,"title":"CH2(V)","titleAngle":180,"titleX":20,"titleY":3,"titleBaseline":"bottom","titleAlign":"center","titleFontSize":11}},
"x2":{"field":"b2"}}},
{"data":{"name":"main"},"mark":{"type":"area","orient":"horizontal","color":"#ff0000","clip":true},"encoding":{
"y":{"field":"t","type":"quantitative","scale":{"domain":[15,241]},"axis":{"orient":"left","values":[25,35,55,65,85,95,115,125,145,155,175,185,205,215,235],"tickSize":-4,"tickWidth":1.5,"labels":false,"domain":false,"title":null}},
"x":{"field":"a2","type":"quantitative","scale":{"domain":[0.06,0.94],"reverse":true},"axis":{"orient":"top","values":[0.06,0.17,0.28,0.39,0.5,0.61,0.72,0.83,0.94],"tickSize":-4,"tickWidth":1,"labels":false,"domain":true,"title":null}},
"x2":{"field":"b2"}}},
{"data":{"name":"main"},"mark":{"type":"area","orient":"horizontal","color":"#ff0000","clip":true},"encoding":{
"y":{"field":"t","type":"quantitative","scale":{"domain":[15,241]},"axis":{"orient":"right","values":[15,45,75,105,135,165,195,225],"tickSize":-8,"tickWidth":2,"labels":false,"domain":true,"title":null}},
"x":{"field":"a2","type":"quantitative","scale":{"domain":[0.06,0.94],"reverse":true},"axis":null},
"x2":{"field":"b2"}}},
{"data":{"name":"spk"},"transform":[{"filter":"datum.c=='CH2'"}],"mark":{"type":"rule","color":"#ff0000","strokeWidth":1,"clip":true},"encoding":{
"y":{"field":"t","type":"quantitative","scale":{"domain":[15,241]},"axis":{"orient":"right","values":[25,35,55,65,85,95,115,125,145,155,175,185,205,215,235],"tickSize":-4,"tickWidth":1.5,"labels":false,"domain":false,"title":null}},
"x":{"field":"v","type":"quantitative","scale":{"domain":[0.06,0.94],"reverse":true},"axis":null},
"x2":{"field":"b"}}}
],"resolve":{"axis":{"x":"independent","y":"independent"}}},

{"width":40,"height":695,"layer":[
{"data":{"name":"main"},"mark":{"type":"area","orient":"horizontal","color":"#ff0000","clip":true},"encoding":{
"y":{"field":"t","type":"quantitative","scale":{"domain":[15,241]},"axis":{"orient":"left","values":[15,45,75,105,135,165,195,225],"tickSize":-8,"tickWidth":2,"labels":false,"domain":true,"title":"0.15 (V)/div","titleAnchor":"start","titleAngle":270,"titleBaseline":"bottom","titlePadding":2,"titleFontSize":14}},
"x":{"field":"a3","type":"quantitative","scale":{"domain":[-0.02,1.18],"reverse":true},"axis":{"orient":"bottom","values":[-0.02,0.13,0.28,0.43,0.58,0.73,0.88,1.03,1.18],"tickSize":-4,"tickWidth":1,"labelExpr":"datum.value==1.18?'1.2':datum.value==-0.02?'-0.0':''","labelAngle":270,"labelAlign":"right","labelBaseline":"middle","labelPadding":20,"labelFontSize":11,"domain":true,"title":"CH3(V)","titleAngle":180,"titleX":20,"titleY":3,"titleBaseline":"bottom","titleAlign":"center","titleFontSize":11}},
"x2":{"field":"b3"}}},
{"data":{"name":"main"},"mark":{"type":"area","orient":"horizontal","color":"#ff0000","clip":true},"encoding":{
"y":{"field":"t","type":"quantitative","scale":{"domain":[15,241]},"axis":{"orient":"left","values":[25,35,55,65,85,95,115,125,145,155,175,185,205,215,235],"tickSize":-4,"tickWidth":1.5,"labels":false,"domain":false,"title":null}},
"x":{"field":"a3","type":"quantitative","scale":{"domain":[-0.02,1.18],"reverse":true},"axis":{"orient":"top","values":[-0.02,0.13,0.28,0.43,0.58,0.73,0.88,1.03,1.18],"tickSize":-4,"tickWidth":1,"labels":false,"domain":true,"title":null}},
"x2":{"field":"b3"}}},
{"data":{"name":"main"},"mark":{"type":"area","orient":"horizontal","color":"#ff0000","clip":true},"encoding":{
"y":{"field":"t","type":"quantitative","scale":{"domain":[15,241]},"axis":{"orient":"right","values":[15,45,75,105,135,165,195,225],"tickSize":-8,"tickWidth":2,"labels":false,"domain":true,"title":null}},
"x":{"field":"a3","type":"quantitative","scale":{"domain":[-0.02,1.18],"reverse":true},"axis":null},
"x2":{"field":"b3"}}},
{"data":{"name":"spk"},"transform":[{"filter":"datum.c=='CH3'"}],"mark":{"type":"rule","color":"#ff0000","strokeWidth":1,"clip":true},"encoding":{
"y":{"field":"t","type":"quantitative","scale":{"domain":[15,241]},"axis":{"orient":"right","values":[25,35,55,65,85,95,115,125,145,155,175,185,205,215,235],"tickSize":-4,"tickWidth":1.5,"labels":false,"domain":false,"title":null}},
"x":{"field":"v","type":"quantitative","scale":{"domain":[-0.02,1.18],"reverse":true},"axis":null},
"x2":{"field":"b"}}}
],"resolve":{"axis":{"x":"independent","y":"independent"}}},

{"width":40,"height":695,"layer":[
{"data":{"name":"main"},"mark":{"type":"area","orient":"horizontal","color":"#ff0000","clip":true},"encoding":{
"y":{"field":"t","type":"quantitative","scale":{"domain":[15,241]},"axis":{"orient":"left","values":[15,45,75,105,135,165,195,225],"tickSize":-8,"tickWidth":2,"labels":false,"domain":true,"title":"0.16 (V)/div","titleAnchor":"start","titleAngle":270,"titleBaseline":"bottom","titlePadding":2,"titleFontSize":14}},
"x":{"field":"a4","type":"quantitative","scale":{"domain":[-0.2,1.08],"reverse":true},"axis":{"orient":"bottom","values":[-0.2,-0.04,0.12,0.28,0.44,0.6,0.76,0.92,1.08],"tickSize":-4,"tickWidth":1,"labelExpr":"datum.value==1.08?'1.1':datum.value==-0.2?'-0.2':''","labelAngle":270,"labelAlign":"right","labelBaseline":"middle","labelPadding":20,"labelFontSize":11,"domain":true,"title":"CH4(V)","titleAngle":180,"titleX":20,"titleY":3,"titleBaseline":"bottom","titleAlign":"center","titleFontSize":11}},
"x2":{"field":"b4"}}},
{"data":{"name":"main"},"mark":{"type":"area","orient":"horizontal","color":"#ff0000","clip":true},"encoding":{
"y":{"field":"t","type":"quantitative","scale":{"domain":[15,241]},"axis":{"orient":"left","values":[25,35,55,65,85,95,115,125,145,155,175,185,205,215,235],"tickSize":-4,"tickWidth":1.5,"labels":false,"domain":false,"title":null}},
"x":{"field":"a4","type":"quantitative","scale":{"domain":[-0.2,1.08],"reverse":true},"axis":{"orient":"top","values":[-0.2,-0.04,0.12,0.28,0.44,0.6,0.76,0.92,1.08],"tickSize":-4,"tickWidth":1,"labels":false,"domain":true,"title":null}},
"x2":{"field":"b4"}}},
{"data":{"name":"main"},"mark":{"type":"area","orient":"horizontal","color":"#ff0000","clip":true},"encoding":{
"y":{"field":"t","type":"quantitative","scale":{"domain":[15,241]},"axis":{"orient":"right","values":[15,45,75,105,135,165,195,225],"tickSize":-8,"tickWidth":2,"labels":false,"domain":true,"title":null}},
"x":{"field":"a4","type":"quantitative","scale":{"domain":[-0.2,1.08],"reverse":true},"axis":null},
"x2":{"field":"b4"}}},
{"data":{"name":"spk"},"transform":[{"filter":"datum.c=='CH4'"}],"mark":{"type":"rule","color":"#ff0000","strokeWidth":1,"clip":true},"encoding":{
"y":{"field":"t","type":"quantitative","scale":{"domain":[15,241]},"axis":{"orient":"right","values":[25,35,55,65,85,95,115,125,145,155,175,185,205,215,235],"tickSize":-4,"tickWidth":1.5,"labels":false,"domain":false,"title":null}},
"x":{"field":"v","type":"quantitative","scale":{"domain":[-0.2,1.08],"reverse":true},"axis":null},
"x2":{"field":"b"}}}
],"resolve":{"axis":{"x":"independent","y":"independent"}}},

{"width":40,"height":695,"layer":[
{"data":{"name":"main"},"mark":{"type":"area","orient":"horizontal","color":"#ff0000","clip":true},"encoding":{
"y":{"field":"t","type":"quantitative","scale":{"domain":[15,241]},"axis":{"orient":"left","values":[15,45,75,105,135,165,195,225],"tickSize":-8,"tickWidth":2,"labels":false,"domain":true,"title":"0.22 (V)/div","titleAnchor":"start","titleAngle":270,"titleBaseline":"bottom","titlePadding":2,"titleFontSize":14}},
"x":{"field":"a5","type":"quantitative","scale":{"domain":[0.1,1.86],"reverse":true},"axis":{"orient":"bottom","values":[0.1,0.32,0.54,0.76,0.98,1.2,1.42,1.64,1.86],"tickSize":-4,"tickWidth":1,"labelExpr":"datum.value==1.86?'1.9':datum.value==0.1?'0.1':''","labelAngle":270,"labelAlign":"right","labelBaseline":"middle","labelPadding":20,"labelFontSize":11,"domain":true,"title":"CH5(V)","titleAngle":180,"titleX":20,"titleY":3,"titleBaseline":"bottom","titleAlign":"center","titleFontSize":11}},
"x2":{"field":"b5"}}},
{"data":{"name":"main"},"mark":{"type":"area","orient":"horizontal","color":"#ff0000","clip":true},"encoding":{
"y":{"field":"t","type":"quantitative","scale":{"domain":[15,241]},"axis":{"orient":"left","values":[25,35,55,65,85,95,115,125,145,155,175,185,205,215,235],"tickSize":-4,"tickWidth":1.5,"labels":false,"domain":false,"title":null}},
"x":{"field":"a5","type":"quantitative","scale":{"domain":[0.1,1.86],"reverse":true},"axis":{"orient":"top","values":[0.1,0.32,0.54,0.76,0.98,1.2,1.42,1.64,1.86],"tickSize":-4,"tickWidth":1,"labels":false,"domain":true,"title":null}},
"x2":{"field":"b5"}}},
{"data":{"name":"main"},"mark":{"type":"area","orient":"horizontal","color":"#ff0000","clip":true},"encoding":{
"y":{"field":"t","type":"quantitative","scale":{"domain":[15,241]},"axis":{"orient":"right","values":[15,45,75,105,135,165,195,225],"tickSize":-8,"tickWidth":2,"labels":false,"domain":true,"title":null}},
"x":{"field":"a5","type":"quantitative","scale":{"domain":[0.1,1.86],"reverse":true},"axis":null},
"x2":{"field":"b5"}}},
{"data":{"name":"spk"},"transform":[{"filter":"datum.c=='CH5'"}],"mark":{"type":"rule","color":"#ff0000","strokeWidth":1,"clip":true},"encoding":{
"y":{"field":"t","type":"quantitative","scale":{"domain":[15,241]},"axis":{"orient":"right","values":[25,35,55,65,85,95,115,125,145,155,175,185,205,215,235],"tickSize":-4,"tickWidth":1.5,"labels":false,"domain":false,"title":null}},
"x":{"field":"v","type":"quantitative","scale":{"domain":[0.1,1.86],"reverse":true},"axis":null},
"x2":{"field":"b"}}}
],"resolve":{"axis":{"x":"independent","y":"independent"}}},

{"width":40,"height":695,"layer":[
{"data":{"name":"main"},"mark":{"type":"area","orient":"horizontal","color":"#ff0000","clip":true},"encoding":{
"y":{"field":"t","type":"quantitative","scale":{"domain":[15,241]},"axis":{"orient":"left","values":[15,45,75,105,135,165,195,225],"tickSize":-8,"tickWidth":2,"labels":false,"domain":true,"title":"0.11 (V)/div","titleAnchor":"start","titleAngle":270,"titleBaseline":"bottom","titlePadding":2,"titleFontSize":14}},
"x":{"field":"a6","type":"quantitative","scale":{"domain":[0,0.88],"reverse":true},"axis":{"orient":"bottom","values":[0,0.11,0.22,0.33,0.44,0.55,0.66,0.77,0.88],"tickSize":-4,"tickWidth":1,"labelExpr":"datum.value==0.88?'0.9':datum.value==0?'0.0':''","labelAngle":270,"labelAlign":"right","labelBaseline":"middle","labelPadding":20,"labelFontSize":11,"domain":true,"title":"CH6(V)","titleAngle":180,"titleX":20,"titleY":3,"titleBaseline":"bottom","titleAlign":"center","titleFontSize":11}},
"x2":{"field":"b6"}}},
{"data":{"name":"main"},"mark":{"type":"area","orient":"horizontal","color":"#ff0000","clip":true},"encoding":{
"y":{"field":"t","type":"quantitative","scale":{"domain":[15,241]},"axis":{"orient":"left","values":[25,35,55,65,85,95,115,125,145,155,175,185,205,215,235],"tickSize":-4,"tickWidth":1.5,"labels":false,"domain":false,"title":null}},
"x":{"field":"a6","type":"quantitative","scale":{"domain":[0,0.88],"reverse":true},"axis":{"orient":"top","values":[0,0.11,0.22,0.33,0.44,0.55,0.66,0.77,0.88],"tickSize":-4,"tickWidth":1,"labels":false,"domain":true,"title":null}},
"x2":{"field":"b6"}}},
{"data":{"name":"main"},"mark":{"type":"area","orient":"horizontal","color":"#ff0000","clip":true},"encoding":{
"y":{"field":"t","type":"quantitative","scale":{"domain":[15,241]},"axis":{"orient":"right","values":[15,45,75,105,135,165,195,225],"tickSize":-8,"tickWidth":2,"labels":false,"domain":true,"title":null}},
"x":{"field":"a6","type":"quantitative","scale":{"domain":[0,0.88],"reverse":true},"axis":null},
"x2":{"field":"b6"}}},
{"data":{"name":"spk"},"transform":[{"filter":"datum.c=='CH6'"}],"mark":{"type":"rule","color":"#ff0000","strokeWidth":1,"clip":true},"encoding":{
"y":{"field":"t","type":"quantitative","scale":{"domain":[15,241]},"axis":{"orient":"right","values":[25,35,55,65,85,95,115,125,145,155,175,185,205,215,235],"tickSize":-4,"tickWidth":1.5,"labels":false,"domain":false,"title":null}},
"x":{"field":"v","type":"quantitative","scale":{"domain":[0,0.88],"reverse":true},"axis":null},
"x2":{"field":"b"}}}
],"resolve":{"axis":{"x":"independent","y":"independent"}}},

{"width":40,"height":695,"layer":[
{"data":{"name":"main"},"mark":{"type":"area","orient":"horizontal","color":"#ff0000","clip":true},"encoding":{
"y":{"field":"t","type":"quantitative","scale":{"domain":[15,241]},"axis":{"orient":"left","values":[15,45,75,105,135,165,195,225],"tickSize":-8,"tickWidth":2,"labels":false,"domain":true,"title":"0.12 (V)/div","titleAnchor":"start","titleAngle":270,"titleBaseline":"bottom","titlePadding":2,"titleFontSize":14}},
"x":{"field":"a7","type":"quantitative","scale":{"domain":[0.06,1.02],"reverse":true},"axis":{"orient":"bottom","values":[0.06,0.18,0.3,0.42,0.54,0.66,0.78,0.9,1.02],"tickSize":-4,"tickWidth":1,"labelExpr":"datum.value==1.02?'1.0':datum.value==0.06?'0.1':''","labelAngle":270,"labelAlign":"right","labelBaseline":"middle","labelPadding":20,"labelFontSize":11,"domain":true,"title":"CH7(V)","titleAngle":180,"titleX":20,"titleY":3,"titleBaseline":"bottom","titleAlign":"center","titleFontSize":11}},
"x2":{"field":"b7"}}},
{"data":{"name":"main"},"mark":{"type":"area","orient":"horizontal","color":"#ff0000","clip":true},"encoding":{
"y":{"field":"t","type":"quantitative","scale":{"domain":[15,241]},"axis":{"orient":"left","values":[25,35,55,65,85,95,115,125,145,155,175,185,205,215,235],"tickSize":-4,"tickWidth":1.5,"labels":false,"domain":false,"title":null}},
"x":{"field":"a7","type":"quantitative","scale":{"domain":[0.06,1.02],"reverse":true},"axis":{"orient":"top","values":[0.06,0.18,0.3,0.42,0.54,0.66,0.78,0.9,1.02],"tickSize":-4,"tickWidth":1,"labels":false,"domain":true,"title":null}},
"x2":{"field":"b7"}}},
{"data":{"name":"main"},"mark":{"type":"area","orient":"horizontal","color":"#ff0000","clip":true},"encoding":{
"y":{"field":"t","type":"quantitative","scale":{"domain":[15,241]},"axis":{"orient":"right","values":[15,45,75,105,135,165,195,225],"tickSize":-8,"tickWidth":2,"labels":false,"domain":true,"title":null}},
"x":{"field":"a7","type":"quantitative","scale":{"domain":[0.06,1.02],"reverse":true},"axis":null},
"x2":{"field":"b7"}}},
{"data":{"name":"spk"},"transform":[{"filter":"datum.c=='CH7'"}],"mark":{"type":"rule","color":"#ff0000","strokeWidth":1,"clip":true},"encoding":{
"y":{"field":"t","type":"quantitative","scale":{"domain":[15,241]},"axis":{"orient":"right","values":[25,35,55,65,85,95,115,125,145,155,175,185,205,215,235],"tickSize":-4,"tickWidth":1.5,"labels":false,"domain":false,"title":null}},
"x":{"field":"v","type":"quantitative","scale":{"domain":[0.06,1.02],"reverse":true},"axis":null},
"x2":{"field":"b"}}}
],"resolve":{"axis":{"x":"independent","y":"independent"}}},

{"width":40,"height":695,"layer":[
{"data":{"name":"main"},"mark":{"type":"area","orient":"horizontal","color":"#ff0000","clip":true},"encoding":{
"y":{"field":"t","type":"quantitative","scale":{"domain":[15,241]},"axis":{"orient":"left","values":[15,45,75,105,135,165,195,225],"tickSize":-8,"tickWidth":2,"labels":false,"domain":true,"title":"0.03 (V)/div","titleAnchor":"start","titleAngle":270,"titleBaseline":"bottom","titlePadding":2,"titleFontSize":14}},
"x":{"field":"a8","type":"quantitative","scale":{"domain":[0.06,0.3],"reverse":true},"axis":{"orient":"bottom","values":[0.06,0.09,0.12,0.15,0.18,0.21,0.24,0.27,0.3],"tickSize":-4,"tickWidth":1,"labelExpr":"datum.value==0.3?'0.3':datum.value==0.06?'0.1':''","labelAngle":270,"labelAlign":"right","labelBaseline":"middle","labelPadding":20,"labelFontSize":11,"domain":true,"title":"CH8(V)","titleAngle":180,"titleX":20,"titleY":3,"titleBaseline":"bottom","titleAlign":"center","titleFontSize":11}},
"x2":{"field":"b8"}}},
{"data":{"name":"main"},"mark":{"type":"area","orient":"horizontal","color":"#ff0000","clip":true},"encoding":{
"y":{"field":"t","type":"quantitative","scale":{"domain":[15,241]},"axis":{"orient":"left","values":[25,35,55,65,85,95,115,125,145,155,175,185,205,215,235],"tickSize":-4,"tickWidth":1.5,"labels":false,"domain":false,"title":null}},
"x":{"field":"a8","type":"quantitative","scale":{"domain":[0.06,0.3],"reverse":true},"axis":{"orient":"top","values":[0.06,0.09,0.12,0.15,0.18,0.21,0.24,0.27,0.3],"tickSize":-4,"tickWidth":1,"labels":false,"domain":true,"title":null}},
"x2":{"field":"b8"}}},
{"data":{"name":"main"},"mark":{"type":"area","orient":"horizontal","color":"#ff0000","clip":true},"encoding":{
"y":{"field":"t","type":"quantitative","scale":{"domain":[15,241]},"axis":{"orient":"right","values":[15,45,75,105,135,165,195,225],"tickSize":-8,"tickWidth":2,"labels":true,"labelExpr":"format(floor(datum.value/60)*100+1500+datum.value%60,'d')","labelAngle":270,"labelAlign":"center","labelBaseline":"top","labelPadding":15,"labelFontSize":13,"domain":true,"title":"TIME(UT)","titleAngle":270,"titleBaseline":"top","titleAnchor":"middle","titlePadding":3,"titleFontSize":17}},
"x":{"field":"a8","type":"quantitative","scale":{"domain":[0.06,0.3],"reverse":true},"axis":null},
"x2":{"field":"b8"}}},
{"data":{"name":"spk"},"transform":[{"filter":"datum.c=='CH8'"}],"mark":{"type":"rule","color":"#ff0000","strokeWidth":1,"clip":true},"encoding":{
"y":{"field":"t","type":"quantitative","scale":{"domain":[15,241]},"axis":{"orient":"right","values":[25,35,55,65,85,95,115,125,145,155,175,185,205,215,235],"tickSize":-4,"tickWidth":1.5,"labels":false,"domain":false,"title":null}},
"x":{"field":"v","type":"quantitative","scale":{"domain":[0.06,0.3],"reverse":true},"axis":null},
"x2":{"field":"b"}}}
],"resolve":{"axis":{"x":"independent","y":"independent"}}}
],
"config":{
"view":{"stroke":null},
"font":"Liberation Sans",
"axis":{"zindex":1,"grid":false,"domainColor":"#000000","domainWidth":2,"domainCap":"square","tickColor":"#000000","labelColor":"#000000","titleColor":"#000000","labelFont":"Liberation Sans","titleFont":"Liberation Sans","titleFontWeight":"normal","labelOverlap":false,"labelBound":false,"labelFlush":false},
"title":{"font":"Liberation Sans","fontWeight":"normal","color":"#000000"}
}
}
